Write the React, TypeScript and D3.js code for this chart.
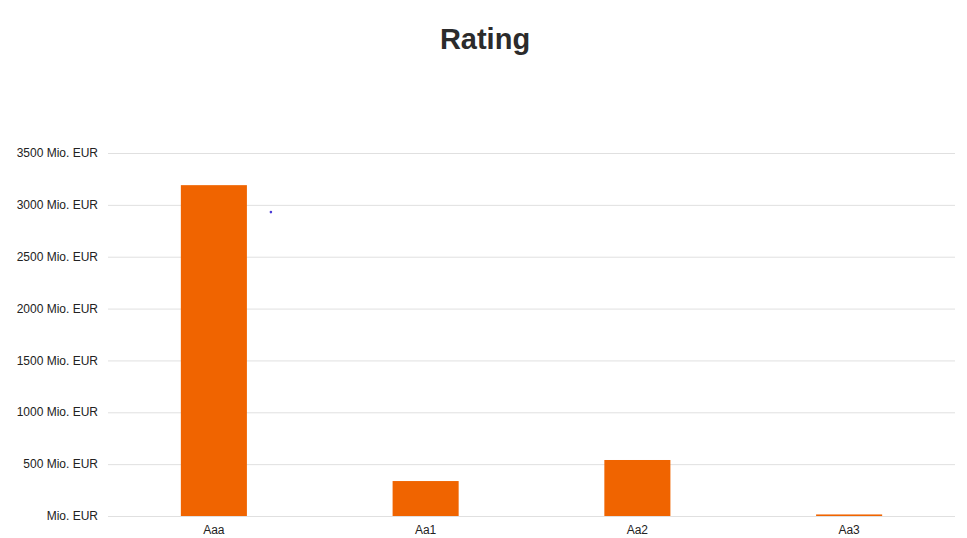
import React, { useEffect, useRef } from "react"
import * as d3 from "d3"

const WIDTH = 967
const HEIGHT = 538
const MARGIN = { top: 153, right: 12, bottom: 22, left: 108 }

const categories = ["Aaa", "Aa1", "Aa2", "Aa3"]
const values = [3190, 337, 540, 15]
const yTicks = [0, 500, 1000, 1500, 2000, 2500, 3000, 3500]
// stray marker seen beside the first bar
const strayMarkerValue = 2930

const BAR_COLOR = "#f06400"

const App: React.FC = () => {
    const svgRef = useRef<SVGSVGElement | null>(null)

    useEffect(() => {
        if (!svgRef.current) return
        const svg = d3.select(svgRef.current)
        svg.selectAll("*").remove()

        const innerWidth = WIDTH - MARGIN.left - MARGIN.right
        const innerHeight = HEIGHT - MARGIN.top - MARGIN.bottom

        const x = d3
            .scaleBand<string>()
            .domain(categories)
            .range([0, innerWidth])
            .paddingInner(0.688)
            .paddingOuter(0.344)

        const y = d3.scaleLinear().domain([0, 3500]).range([innerHeight, 0])

        svg.append("text")
            .attr("x", 485)
            .attr("y", 49)
            .attr("text-anchor", "middle")
            .style("font-family", "'Liberation Sans', Arial, sans-serif")
            .style("font-weight", "bold")
            .style("font-size", "29px")
            .style("fill", "#2b2b2b")
            .text("Rating")

        const chart = svg
            .append("g")
            .attr("transform", `translate(${MARGIN.left},${MARGIN.top})`)

        // gridlines
        chart
            .selectAll("line.grid")
            .data(yTicks)
            .enter()
            .append("line")
            .attr("class", "grid")
            .attr("x1", 0)
            .attr("x2", innerWidth)
            .attr("y1", d => y(d) + 0.5)
            .attr("y2", d => y(d) + 0.5)
            .attr("stroke", "#e0e0e0")
            .attr("stroke-width", 1)

        // y labels
        chart
            .selectAll("text.ylab")
            .data(yTicks)
            .enter()
            .append("text")
            .attr("class", "ylab")
            .attr("x", -10)
            .attr("y", d => y(d))
            .attr("dy", "0.35em")
            .attr("text-anchor", "end")
            .style("font-family", "'Liberation Sans', Arial, sans-serif")
            .style("font-size", "12px")
            .style("fill", "#222")
            .text(d => (d === 0 ? "Mio. EUR" : `${d} Mio. EUR`))

        // bars
        chart
            .selectAll("rect.bar")
            .data(values)
            .enter()
            .append("rect")
            .attr("class", "bar")
            .attr("x", (_, i) => x(categories[i])!)
            .attr("y", d => y(d))
            .attr("width", x.bandwidth())
            .attr("height", d => innerHeight - y(d))
            .attr("fill", BAR_COLOR)

        // x labels
        chart
            .selectAll("text.xlab")
            .data(categories)
            .enter()
            .append("text")
            .attr("class", "xlab")
            .attr("x", d => x(d)! + x.bandwidth() / 2)
            .attr("y", innerHeight + 18)
            .attr("text-anchor", "middle")
            .style("font-family", "'Liberation Sans', Arial, sans-serif")
            .style("font-size", "12px")
            .style("fill", "#222")
            .text(d => d)

        chart
            .append("circle")
            .attr("cx", x(categories[0])! + x.bandwidth() + 24)
            .attr("cy", y(strayMarkerValue))
            .attr("r", 1.3)
            .attr("fill", "#4b3bd6")
    }, [])

    return (
        <svg
            ref={svgRef}
            width={WIDTH}
            height={HEIGHT}
            style={{ position: "absolute", left: 0, top: 0, background: "#fff" }}
        />
    )
}

export default App
